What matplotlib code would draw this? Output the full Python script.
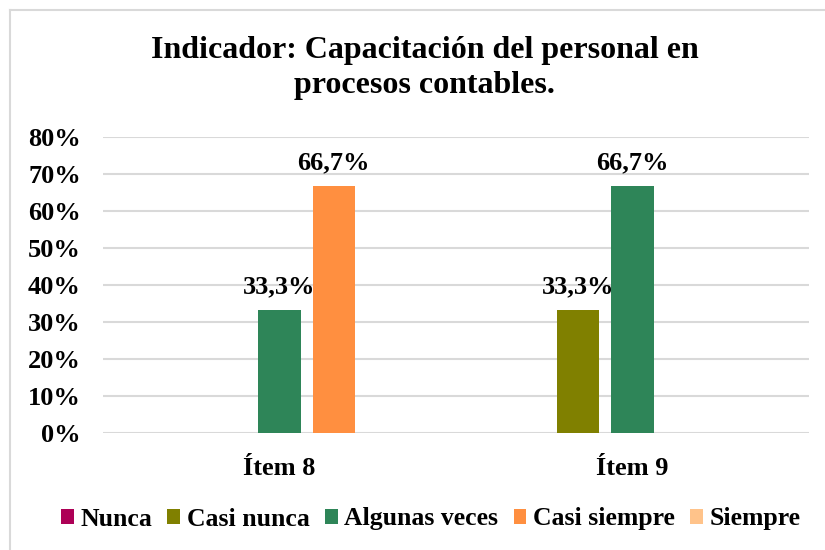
import matplotlib
matplotlib.use("Agg")
import matplotlib.pyplot as plt
import numpy as np
from matplotlib.lines import Line2D

categories = ["Ítem 8", "Ítem 9"]
series = ["Nunca", "Casi nunca", "Algunas veces", "Casi siempre", "Siempre"]
nunca = [0.0, 0.0]
casi_nunca = [0.0, 33.3]
algunas_veces = [33.3, 66.7]
casi_siempre = [66.7, 0.0]
siempre = [0.0, 0.0]
colors = ["#AD0056", "#808000", "#2E8558", "#FF8F40", "#FFC38A"]
yticks = [0, 10, 20, 30, 40, 50, 60, 70, 80]

plt.rcParams["font.family"] = ["Liberation Serif", "DejaVu Serif"]
plt.rcParams["font.weight"] = "bold"

fig = plt.figure(figsize=(8.25, 5.5), dpi=100)
ax = fig.add_axes([103 / 825, 1 - 433 / 550, 706 / 825, 296 / 550])
# chart frame: only the left and top edges show (the picture is cropped)
fx, fy = 9.5 / 825, 1 - 9.5 / 550
fig.add_artist(Line2D([fx, fx], [0, fy], transform=fig.transFigure, color="#D9D9D9", lw=1.5))
fig.add_artist(Line2D([fx, 1], [fy, fy], transform=fig.transFigure, color="#D9D9D9", lw=1.5))

x = np.arange(len(categories))
w = 0.119; step = 0.153
vals = [nunca, casi_nunca, algunas_veces, casi_siempre, siempre]
for i, (name, v, c) in enumerate(zip(series, vals, colors)):
    pos = x + (i - 2) * step
    ax.bar(pos, v, width=w, color=c, label=name, zorder=3)
    for p, val in zip(pos, v):
        if val > 0:
            ax.text(p, val + 3.2, f"{val:.1f}%".replace(".", ","), ha="center", va="bottom",
                    fontsize=19, fontweight="bold")

ax.set_xlim(-0.5, 1.5); ax.set_ylim(0, 80)
ax.set_yticks(yticks)
ax.set_yticklabels([f"{t}%" for t in yticks], fontsize=19, fontweight="bold")
ax.set_xticks(x)
ax.set_xticklabels(categories, fontsize=19, fontweight="bold")
ax.tick_params(length=0, pad=17)
ax.tick_params(axis="y", pad=16)
for s in ax.spines.values():
    s.set_visible(False)
ax.grid(axis="y", color="#D9D9D9", lw=1.5, zorder=0)
ax.set_axisbelow(True)

fig.text(0.515, 0.876, "Indicador: Capacitación del personal en\nprocesos contables.", ha="center",
         va="center", fontsize=23, fontweight="bold", linespacing=1.25)
handles, labels = ax.get_legend_handles_labels()
fig.legend(handles, labels, loc="center", bbox_to_anchor=(0.522, 1 - 519 / 550), ncol=5, frameon=False,
           handlelength=0.5, handleheight=0.5, handletextpad=0.25, columnspacing=0.6,
           prop={"weight": "bold", "size": 18.5})

fig.savefig("out.png", dpi=100)
